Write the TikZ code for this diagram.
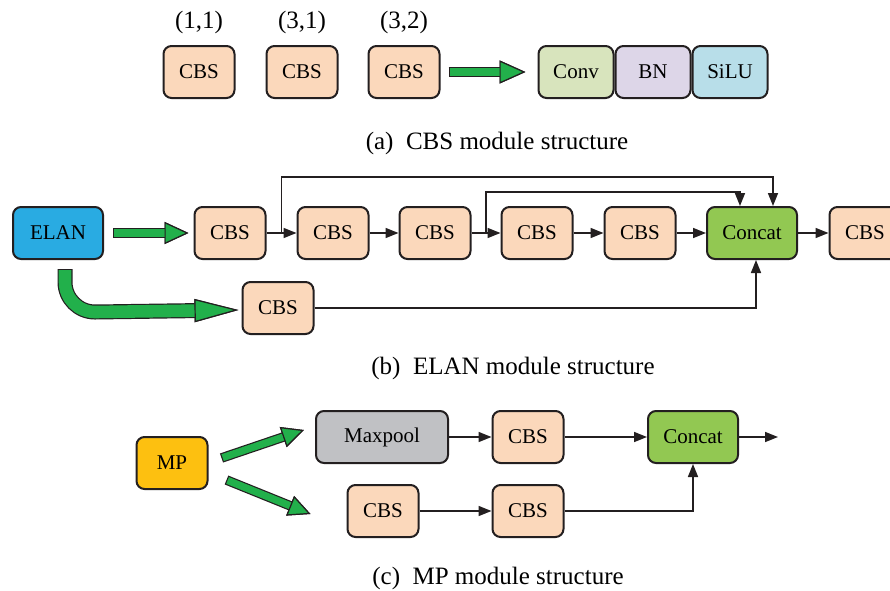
\documentclass[tikz,border=0pt]{standalone}
\usepackage{fontspec}
\setmainfont{Liberation Serif}
\usetikzlibrary{arrows.meta, positioning, calc}
\definecolor{modpeach}{HTML}{FBD8BB}
\definecolor{modconv}{HTML}{D8E4BD}
\definecolor{modbn}{HTML}{DDD6E8}
\definecolor{modsilu}{HTML}{B8DEE9}
\definecolor{modconcat}{HTML}{92C852}
\definecolor{modelan}{HTML}{29ABE2}
\definecolor{modmp}{HTML}{FDC010}
\definecolor{modpool}{HTML}{C0C1C4}
\definecolor{modarrow}{HTML}{22B04B}
\definecolor{modline}{HTML}{231F20}
\tikzset{
  block/.style={draw=modline, line width=1pt, rounded corners=4pt,
                minimum height=26pt, align=center, inner sep=2pt,
                font=\fontsize{10.5}{12}\selectfont},
  cbs/.style={block, fill=modpeach, minimum width=35.5pt},
  concat/.style={block, fill=modconcat, minimum width=45pt},
  flow/.style={draw=modline, line width=0.8pt, -{Triangle[length=6.5pt, width=5pt]}},
  caption/.style={font=\fontsize{12.5}{14}\selectfont},
  fatarrow/.style n args={4}{line width=#1, draw=modline,
    -{Triangle[length=#4, width=#3, line width=0.6pt, fill=modarrow, color=modline]},
    postaction={draw=modarrow, line width=#2, shorten <=0.6pt,
      -{Triangle[length=#4, width=#3, line width=0.6pt, fill=modarrow, color=modline]}}}
}

\begin{document}
\begin{tikzpicture}[x=0.5pt, y=-0.5pt]
    \useasboundingbox (0,0) rectangle (890,590);
    \clip (0,0) rectangle (890,590);

    % (a) CBS
    \node[cbs] (a1) at (199,72) {CBS};
    \node[cbs] (a2) at (302,72) {CBS};
    \node[cbs] (a3) at (404,72) {CBS};
    \node[caption] (k1) at (199,22) {(1,1)};
    \node[caption] (k2) at (302,22) {(3,1)};
    \node[caption] (k3) at (404,22) {(3,2)};

    \node[block, fill=modconv, minimum width=37.5pt] (conv) at (576,72) {Conv};
    \node[block, fill=modbn, minimum width=37.5pt, right=0pt of conv] (bn) {BN};
    \node[block, fill=modsilu, minimum width=37.5pt, right=0pt of bn] (silu) {SiLU};

    \draw[fatarrow={5pt}{3.8pt}{11.5pt}{13pt}] ([xshift=4pt]a3.east) -- ([xshift=-6pt]conv.west);

    \node[caption] (capa) at (497,143) {(a)\enspace CBS module structure};

    % (b) ELAN
    \node[block, fill=modelan, minimum width=45pt] (elan) at (58,233) {ELAN};
    \node[cbs] (b1) at (230,233) {CBS};
    \node[cbs] (b2) at (333,233) {CBS};
    \node[cbs] (b3) at (435,233) {CBS};
    \node[cbs] (b4) at (537,233) {CBS};
    \node[cbs] (b5) at (640,233) {CBS};
    \node[concat] (bcat) at (752,233) {Concat};
    \node[cbs] (b6) at (865,233) {CBS};
    \node[cbs] (bb) at (278,308) {CBS};

    \coordinate (s1) at ($(b1.east)!0.5!(b2.west)$);
    \coordinate (s2) at ($(b3.east)!0.5!(b4.west)$);

    \draw[flow] (b1) -- (b2);
    \draw[flow] (b2) -- (b3);
    \draw[flow] (b3) -- (b4);
    \draw[flow] (b4) -- (b5);
    \draw[flow] (b5) -- (bcat);
    \draw[flow] (bcat) -- (b6);
    \draw[flow] (s1) -- ++(0,-56) -| ([xshift=10.5pt]bcat.north);
    \draw[flow] (s2) -- ++(0,-41) -| ([xshift=-6pt]bcat.north);
    \draw[flow] (bb.east) -| ([xshift=2pt]bcat.south);

    \draw[fatarrow={4.8pt}{3.6pt}{11pt}{12pt}] ([xshift=4.5pt]elan.east) -- ([xshift=-2.5pt]b1.west);
    \draw[fatarrow={7.5pt}{6.3pt}{11.5pt}{22pt}] ([xshift=3.5pt,yshift=-4.5pt]elan.south)
      -- ++(0,13) to[out=-90, in=180] ++(30,30) -- ([xshift=-1.5pt,yshift=-1pt]bb.west);

    \node[caption] (capb) at (513,368) {(b)\enspace ELAN module structure};

    % (c) MP
    \node[block, fill=modmp, minimum width=35.5pt] (mp) at (172,463) {MP};
    \node[block, fill=modpool, minimum width=66pt] (pool) at (382,437) {Maxpool};
    \node[cbs] (c1) at (528,437) {CBS};
    \node[concat] (ccat) at (693,437) {Concat};
    \node[cbs] (c2) at (383,511) {CBS};
    \node[cbs] (c3) at (528,511) {CBS};
    \coordinate (cout) at (778,437);

    \draw[flow] (pool) -- (c1);
    \draw[flow] (c1) -- (ccat);
    \draw[flow] (ccat) -- (cout);
    \draw[flow] (c2) -- (c3);
    \draw[flow] (c3.east) -| (ccat.south);

    \draw[fatarrow={4.8pt}{3.6pt}{10.5pt}{11pt}] ([xshift=6.5pt,yshift=2.5pt]mp.east) -- ([xshift=-5.5pt,yshift=3.5pt]pool.west);
    \draw[fatarrow={4.8pt}{3.6pt}{10.5pt}{11pt}] ([xshift=9pt,yshift=-8.5pt]mp.east) -- ([xshift=-18pt,yshift=-1.5pt]c2.west);

    \node[caption] (capc) at (498,578) {(c)\enspace MP module structure};
  \end{tikzpicture}
\end{document}
